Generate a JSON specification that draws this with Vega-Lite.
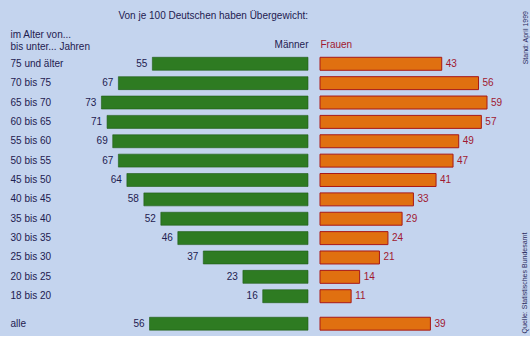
{
  "$schema": "https://vega.github.io/schema/vega-lite/v6.json",
  "background": "#c4d4ee",
  "padding": {"left": 10, "top": 11, "right": 4, "bottom": 2},
  "config": {
    "view": {"stroke": null},
    "font": "Liberation Sans",
    "title": {"fontWeight": "normal", "color": "#1e2050"}
  },
  "title": {"text": "Stand: April 1999", "orient": "right", "anchor": "start", "angle": 270, "align": "right", "frame": "bounds", "fontSize": 7, "color": "#2a2a60", "offset": -13},
  "datasets": {
    "ages": [
      {"age": "75 und älter", "m": 55, "f": 43},
      {"age": "70 bis 75", "m": 67, "f": 56},
      {"age": "65 bis 70", "m": 73, "f": 59},
      {"age": "60 bis 65", "m": 71, "f": 57},
      {"age": "55 bis 60", "m": 69, "f": 49},
      {"age": "50 bis 55", "m": 67, "f": 47},
      {"age": "45 bis 50", "m": 64, "f": 41},
      {"age": "40 bis 45", "m": 58, "f": 33},
      {"age": "35 bis 40", "m": 52, "f": 29},
      {"age": "30 bis 35", "m": 46, "f": 24},
      {"age": "25 bis 30", "m": 37, "f": 21},
      {"age": "20 bis 25", "m": 23, "f": 14},
      {"age": "18 bis 20", "m": 16, "f": 11}
    ],
    "all": [
      {"age": "alle", "m": 56, "f": 39}
    ]
  },
  "columns": 2,
  "spacing": {"row": 8, "column": 12},
  "bounds": "flush",
  "concat": [
    {
      "width": 283,
      "height": 252,
      "data": {"name": "ages"},
      "title": {"text": "Von je 100 Deutschen haben Übergewicht:", "anchor": "end", "frame": "group", "fontSize": 10, "offset": 8},
      "encoding": {
        "y": {"field": "age", "type": "nominal", "sort": null,
          "scale": {"paddingInner": 0.33, "paddingOuter": 0.17},
          "axis": {"title": ["im Alter von...", "bis unter... Jahren"], "titleAngle": 0, "titleAnchor": "start", "titleAlign": "left", "titleBaseline": "top", "titleX": -15, "titleY": -25, "titleFontSize": 10, "titleFontWeight": "normal", "titleColor": "#1e2050", "titleLineHeight": 12,
            "labelAlign": "left", "labelPadding": 15, "ticks": false, "tickSize": 0, "domain": false, "labelFontSize": 10, "labelColor": "#1e2050"}},
        "x": {"field": "m", "type": "quantitative", "scale": {"domain": [0, 100], "reverse": true},
          "axis": {"orient": "top", "title": "Männer", "titleAnchor": "start", "titleAlign": "right", "titleFontSize": 10, "titleFontWeight": "normal", "titleColor": "#1e2050", "titlePadding": 5, "labels": false, "ticks": false, "domain": false, "grid": false}}
      },
      "layer": [
        {"mark": {"type": "bar", "color": "#2e7b22", "stroke": "#1f5a16", "strokeWidth": 0.6}},
        {"mark": {"type": "text", "align": "right", "dx": -5, "fontSize": 10, "color": "#1e2050"}, "encoding": {"text": {"field": "m"}}}
      ]
    },
    {
      "width": 184,
      "height": 252,
      "data": {"name": "ages"},
      "encoding": {
        "y": {"field": "age", "type": "nominal", "sort": null,
          "scale": {"paddingInner": 0.33, "paddingOuter": 0.17}, "axis": null},
        "x": {"field": "f", "type": "quantitative", "scale": {"domain": [0, 65]},
          "axis": {"orient": "top", "title": "Frauen", "titleAnchor": "start", "titleAlign": "left", "titleFontSize": 10, "titleFontWeight": "normal", "titleColor": "#a01830", "titlePadding": 5, "labels": false, "ticks": false, "domain": false, "grid": false}}
      },
      "layer": [
        {"mark": {"type": "bar", "color": "#e07010", "stroke": "#a81818", "strokeWidth": 1}},
        {"mark": {"type": "text", "align": "left", "dx": 4, "fontSize": 10, "color": "#a01830"}, "encoding": {"text": {"field": "f"}}}
      ]
    },
    {
      "width": 283,
      "height": 19.4,
      "data": {"name": "all"},
      "encoding": {
        "y": {"field": "age", "type": "nominal",
          "scale": {"paddingInner": 0.33, "paddingOuter": 0.17},
          "axis": {"title": null, "labelAlign": "left", "labelPadding": 15, "ticks": false, "tickSize": 0, "domain": false, "labelFontSize": 10, "labelColor": "#1e2050"}},
        "x": {"field": "m", "type": "quantitative", "scale": {"domain": [0, 100], "reverse": true}, "axis": null}
      },
      "layer": [
        {"mark": {"type": "bar", "color": "#2e7b22", "stroke": "#1f5a16", "strokeWidth": 0.6}},
        {"mark": {"type": "text", "align": "right", "dx": -5, "fontSize": 10, "color": "#1e2050"}, "encoding": {"text": {"field": "m"}}}
      ]
    },
    {
      "width": 184,
      "height": 19.4,
      "data": {"name": "all"},
      "title": {"text": "Quelle: Statistisches Bundesamt", "orient": "right", "anchor": "end", "angle": 270, "align": "left", "frame": "group", "fontSize": 7, "color": "#2a2a60", "offset": 10},
      "encoding": {
        "y": {"field": "age", "type": "nominal",
          "scale": {"paddingInner": 0.33, "paddingOuter": 0.17}, "axis": null},
        "x": {"field": "f", "type": "quantitative", "scale": {"domain": [0, 65]}, "axis": null}
      },
      "layer": [
        {"mark": {"type": "bar", "color": "#e07010", "stroke": "#a81818", "strokeWidth": 1}},
        {"mark": {"type": "text", "align": "left", "dx": 4, "fontSize": 10, "color": "#a01830"}, "encoding": {"text": {"field": "f"}}}
      ]
    }
  ]
}
